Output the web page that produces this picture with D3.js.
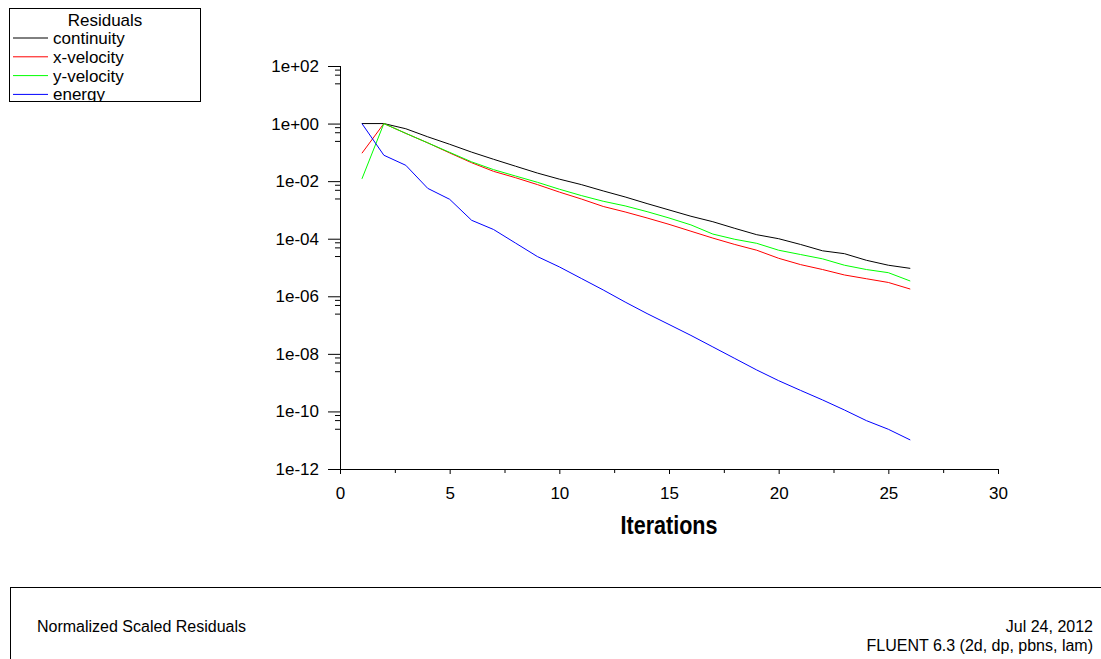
<!DOCTYPE html>
<html>
<head>
<meta charset="utf-8">
<script src="https://cdn.jsdelivr.net/npm/d3@7/dist/d3.min.js"></script>
<style>
  html, body { margin: 0; padding: 0; background: #fff; }
  svg { display: block; font-family: "Liberation Sans", Arial, sans-serif; }
</style>
</head>
<body>
<svg id="chart" width="1101" height="659"></svg>
<script>
// Residual history, one value per iteration
const iterations = d3.range(1, 27);

const continuity = [1, 1, 0.661, 0.347, 0.191, 0.102, 0.0575, 0.0331, 0.0191, 0.01175,
  7.59e-3, 4.57e-3, 2.82e-3, 1.66e-3, 1.0e-3, 6.03e-4, 3.89e-4, 2.29e-4, 1.38e-4, 1.0e-4,
  6.31e-5, 3.80e-5, 3.02e-5, 1.78e-5, 1.20e-5, 9.33e-6];

const xVelocity = [0.0933, 1, 0.457, 0.214, 0.0955, 0.0437, 0.0219, 0.0132, 7.59e-3, 4.17e-3,
  2.40e-3, 1.32e-3, 8.51e-4, 5.25e-4, 3.16e-4, 1.82e-4, 1.05e-4, 6.31e-5, 3.98e-5, 2.09e-5,
  1.26e-5, 8.51e-6, 5.50e-6, 4.07e-6, 3.02e-6, 1.78e-6];

const yVelocity = [0.0120, 1, 0.457, 0.214, 0.1, 0.0468, 0.0251, 0.0151, 9.12e-3, 5.25e-3,
  3.16e-3, 2.0e-3, 1.38e-3, 8.71e-4, 5.25e-4, 3.02e-4, 1.45e-4, 9.55e-5, 6.92e-5, 3.98e-5,
  2.82e-5, 2.0e-5, 1.20e-5, 8.51e-6, 6.61e-6, 3.39e-6];

const energy = [1, 0.0794, 0.0355, 5.62e-3, 2.34e-3, 4.37e-4, 2.09e-4, 7.08e-5, 2.40e-5, 1.05e-5,
  4.17e-6, 1.66e-6, 6.31e-7, 2.51e-7, 1.05e-7, 4.37e-8, 1.74e-8, 6.92e-9, 2.75e-9, 1.17e-9,
  5.37e-10, 2.51e-10, 1.12e-10, 4.79e-11, 2.40e-11, 1.02e-11];

const seriesNames = ["continuity", "x-velocity", "y-velocity", "energy"];
const seriesColors = ["#000000", "#ff0000", "#00ff00", "#0000ff"];
const seriesValues = [continuity, xVelocity, yVelocity, energy];

const yTickValues = [1e2, 1e0, 1e-2, 1e-4, 1e-6, 1e-8, 1e-10, 1e-12];
const yMinorFactors = [0.75, 0.5, 0.25];
const xTickValues = [0, 5, 10, 15, 20, 25, 30];
const xMinorValues = [2.5, 7.5, 12.5, 17.5, 22.5, 27.5];

const title = "Normalized Scaled Residuals";
const dateText = "Jul 24, 2012";
const solverText = "FLUENT 6.3 (2d, dp, pbns, lam)";

const svg = d3.select("#chart");

const x = d3.scaleLinear().domain([0, 30]).range([340, 998]);
const y = d3.scaleLog().domain([1e-12, 1e2]).range([469, 66]);

const expFormat = v => {
  const e = Math.round(Math.log10(v));
  return "1e" + (e < 0 ? "-" : "+") + String(Math.abs(e)).padStart(2, "0");
};

// Y axis: major decades every two, short minor ticks below each
const yAxisG = svg.append("g").attr("transform", `translate(${x(0)},0)`)
  .call(d3.axisLeft(y).tickValues(yTickValues).tickFormat(expFormat)
    .tickSize(12).tickPadding(9));
const yMinor = [];
yTickValues.slice(0, -1).forEach(t => yMinorFactors.forEach(f => yMinor.push(t * f)));
svg.append("g").attr("transform", `translate(${x(0)},0)`)
  .call(d3.axisLeft(y).tickValues(yMinor).tickFormat("").tickSize(5))
  .select(".domain").remove();

// X axis
const xAxisG = svg.append("g").attr("transform", `translate(0,${y(1e-12)})`)
  .call(d3.axisBottom(x).tickValues(xTickValues).tickFormat(d3.format("d"))
    .tickSize(5).tickPadding(13));
svg.append("g").attr("transform", `translate(0,${y(1e-12)})`)
  .call(d3.axisBottom(x).tickValues(xMinorValues).tickFormat("").tickSize(4))
  .select(".domain").remove();

[yAxisG, xAxisG].forEach(g => {
  g.selectAll("text").attr("font-size", 17).attr("fill", "#000")
    .attr("font-family", '"Liberation Sans", Arial, sans-serif');
});
svg.selectAll(".tick line").attr("stroke", "#000");
svg.selectAll(".domain").attr("stroke", "#000");
// plain axis lines without end caps
yAxisG.select(".domain").attr("d", `M0.5,${y(1e2)}V${y(1e-12) + 0.5}`);
xAxisG.select(".domain").attr("d", `M${x(0)},0.5H${x(30)}`);

svg.append("text")
  .attr("x", (x(0) + x(30)) / 2).attr("y", 534)
  .attr("text-anchor", "middle")
  .attr("font-size", 25).attr("font-weight", "bold")
  .attr("textLength", 97).attr("lengthAdjust", "spacingAndGlyphs")
  .text("Iterations");

// Residual curves
const line = d3.line()
  .x((d, i) => x(iterations[i]))
  .y(d => y(d));

svg.append("g").selectAll("path")
  .data(seriesValues)
  .join("path")
  .attr("fill", "none")
  .attr("stroke", (d, i) => seriesColors[i])
  .attr("stroke-width", 1)
  .attr("d", line);

// Legend box
const legend = svg.append("g");
legend.append("clipPath").attr("id", "legclip")
  .append("rect").attr("x", 10).attr("y", 9).attr("width", 190).attr("height", 92);
legend.append("rect")
  .attr("x", 9.5).attr("y", 8.5).attr("width", 191).attr("height", 93)
  .attr("fill", "#fff").attr("stroke", "#000");
const legBody = legend.append("g").attr("clip-path", "url(#legclip)");
legBody.append("text").attr("x", 105).attr("y", 26)
  .attr("text-anchor", "middle").attr("font-size", 17).text("Residuals");
const rows = legBody.selectAll("g.row").data(seriesNames).join("g")
  .attr("class", "row")
  .attr("transform", (d, i) => `translate(0,${38 + i * 18.8})`);
rows.append("line").attr("x1", 13).attr("x2", 48).attr("y1", 0).attr("y2", 0)
  .attr("stroke", (d, i) => seriesColors[i]);
rows.append("text").attr("x", 53).attr("y", 6)
  .attr("font-size", 17).text(d => d);

// Footer panel
svg.append("rect")
  .attr("x", 10.5).attr("y", 587.5).attr("width", 1100).attr("height", 100)
  .attr("fill", "none").attr("stroke", "#000");
svg.append("text").attr("x", 37).attr("y", 632)
  .attr("font-size", 16).text(title);
svg.append("text").attr("x", 1093).attr("y", 632)
  .attr("text-anchor", "end").attr("font-size", 16).text(dateText);
svg.append("text").attr("x", 1093).attr("y", 651)
  .attr("text-anchor", "end").attr("font-size", 16).text(solverText);
</script>
</body>
</html>
